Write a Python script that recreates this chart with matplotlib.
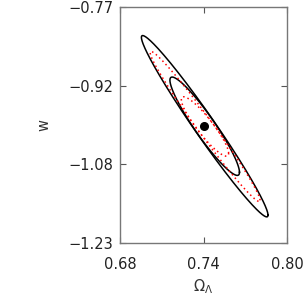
import numpy as np
import matplotlib
matplotlib.use("Agg")
import matplotlib.pyplot as plt

# Best-fit point
best_omega = 0.740
best_w = -1.002

# Contours: centre x, centre y, half-extent in x, half-extent in y, correlation
black_cx = [0.7408, 0.7408]
black_cy = [-1.002, -1.002]
black_ax = [0.0455, 0.0250]
black_ay = [0.1770, 0.0960]
black_rho = [-0.980, -0.936]

red_cx = [0.7411, 0.7410]
red_cy = [-1.0025, -1.0025]
red_ax = [0.0395, 0.0170]
red_ay = [0.1465, 0.0580]
red_rho = [-0.984, -0.905]

xticks = [0.68, 0.74, 0.80]
xticklabels = ["0.68", "0.74", "0.80"]
yticks = list(np.linspace(-1.23, -0.77, 4))
yticklabels = ["\u22121.23", "\u22121.08", "\u22120.92", "\u22120.77"]


def ellipse(cx, cy, ax, ay, rho):
    t = np.linspace(0, 2 * np.pi, 400)
    x = cx + ax * np.cos(t)
    y = cy + ay * (rho * np.cos(t) + np.sqrt(1 - rho ** 2) * np.sin(t))
    return x, y


fig = plt.figure(figsize=(3.08, 3.08), dpi=100)
ax = fig.add_axes([0.39, 0.211, 0.542, 0.765])

for i in range(len(black_cx)):
    x, y = ellipse(black_cx[i], black_cy[i], black_ax[i], black_ay[i], black_rho[i])
    ax.plot(x, y, color="black", lw=1.1)
for i in range(len(red_cx)):
    x, y = ellipse(red_cx[i], red_cy[i], red_ax[i], red_ay[i], red_rho[i])
    ax.plot(x, y, color="red", lw=1.1, ls=(0, (1, 2.0)))

ax.plot([best_omega], [best_w], "o", color="black", ms=5.5)

ax.set_xlim(0.68, 0.80)
ax.set_ylim(-1.23, -0.77)
ax.set_xticks(xticks)
ax.set_xticklabels(xticklabels)
ax.set_yticks(yticks)
ax.set_yticklabels(yticklabels)
ax.tick_params(direction="in", length=4, width=0.8, colors="#555555",
               labelcolor="#222222", labelsize=10.5, top=True, right=True)
ax.tick_params(axis="x", pad=10)
ax.tick_params(axis="y", pad=5)
for s in ax.spines.values():
    s.set_color("#777777")
    s.set_linewidth(1.0)

ax.set_xlabel(r"$\Omega_\Lambda$", fontsize=10.5, color="#333333", labelpad=4)
ax.set_ylabel("w", fontsize=10.5, color="#333333", labelpad=12)

fig.savefig("out.png", dpi=100)
